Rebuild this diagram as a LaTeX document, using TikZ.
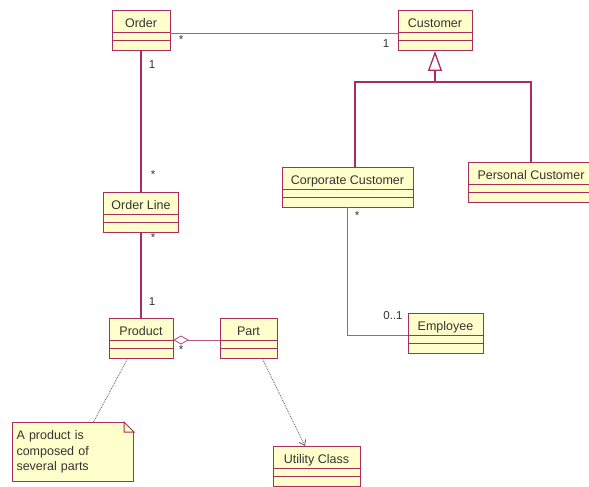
\documentclass[tikz,border=0pt]{standalone}
\usepackage{fontspec}
\setmainfont{Liberation Sans}
\usetikzlibrary{positioning,arrows.meta}
\definecolor{umlline}{RGB}{170,45,95}
\definecolor{umlfill}{RGB}{255,255,204}
\tikzset{
  cname/.style={draw=umlline, fill=umlfill, line width=1pt, anchor=north, outer sep=0pt,
    inner sep=0pt, minimum height=22pt, text height=12pt, text depth=0pt,
    font=\fontsize{12.5}{14}\selectfont, text=black!80},
  cpart/.style={draw=umlline, fill=umlfill, line width=1pt, outer sep=0pt, inner sep=0pt},
  assoc/.style={draw=umlline, line width=1.3pt},
  assocthin/.style={draw=umlline!80, line width=0.9pt},
  mult/.style={font=\fontsize{11.5}{12}\selectfont, text=black!80, inner sep=0pt},
  dep/.style={densely dotted, line width=0.8pt, black!65},
}
% class box: name, top centre, width, label
\newcommand{\umlclass}[4]{%
  \node[cname, minimum width=#3] (#1) at (#2) {#4};
  \node[cpart, minimum width=#3, minimum height=8pt, below=0pt of #1] (#1-a) {};
  \node[cpart, minimum width=#3, minimum height=10pt, below=0pt of #1-a] (#1-o) {};
}
\begin{document}
\begin{tikzpicture}[x=1pt, y=-1pt]
    \fill[white] (0,0) rectangle (589,487);
    \useasboundingbox (0,0) rectangle (589,487);

    \umlclass{order}{141,11}{58pt}{Order}
    \umlclass{customer}{435,11}{74pt}{Customer}
    \umlclass{orderline}{141,192}{75pt}{Order Line}
    \umlclass{product}{141,318}{64pt}{Product}
    \umlclass{part}{248.5,318}{57pt}{Part}
    \umlclass{corporate}{347.5,167}{131pt}{Corporate Customer}
    \umlclass{personal}{531,162}{126pt}{Personal Customer}
    \umlclass{employee}{445.5,313}{75pt}{Employee}
    \umlclass{utility}{316.5,446}{87pt}{Utility Class}

    % note
    \node[fill=umlfill, draw=umlline, line width=1pt, anchor=north west, minimum width=121pt,
      minimum height=59pt, text width=113pt, inner xsep=4pt, align=left,
      font=\fontsize{12.5}{15.5}\selectfont, text=black!80] (note) at (12,422)
      {A product is\\composed of\\several parts};
    \fill[white] ([xshift=-10pt]note.north east) -- ([xshift=0.6pt,yshift=0.6pt]note.north east) -- ([yshift=-10pt]note.north east) -- cycle;
    \draw[umlline, line width=1pt] ([xshift=-10pt]note.north east) -- ([yshift=-10pt]note.north east)
      -- ([xshift=-10pt, yshift=-10pt]note.north east) -- cycle;

    % associations
    \draw[assocthin] (order.south east) -- (customer.south west);
    \node[mult] (m1) at (181,40) {*};
    \node[mult] (m2) at (386,44) {1};
    \draw[assoc] (order-o.south) -- (orderline.north);
    \node[mult] (m3) at (152,65) {1};
    \node[mult] (m4) at (153,175) {*};
    \draw[assoc] (orderline-o.south) -- (product.north);
    \node[mult] (m5) at (153,238) {*};
    \node[mult] (m6) at (152,302) {1};
    \draw[assocthin, {Diamond[open, length=16pt, width=9pt]}-] (product.south east) -- (part.south west);
    \node[mult] (m7) at (181,350) {*};
    \draw[assocthin] (corporate-o.south) |- (employee.south west);
    \node[mult] (m8) at (357,216) {*};
    \node[mult] (m9) at (393,316) {0..1};

    % generalization
    \coordinate (genmid) at (435,82);
    \draw[assoc, -{Triangle[open, length=20pt, width=14pt]}] (genmid) -- (customer-o.south);
    \draw[assoc] ([xshift=7.5pt]corporate.north) |- (genmid) -| (personal.north);

    % note link and dependency
    \draw[dep] ([xshift=-13pt]product-o.south) -- ([xshift=20.5pt]note.north);
    \draw[dep, -{Straight Barb[length=5pt, width=7pt]}] ([xshift=13.5pt]part-o.south) -- ([xshift=-11.5pt]utility.north);
\end{tikzpicture}
\end{document}
